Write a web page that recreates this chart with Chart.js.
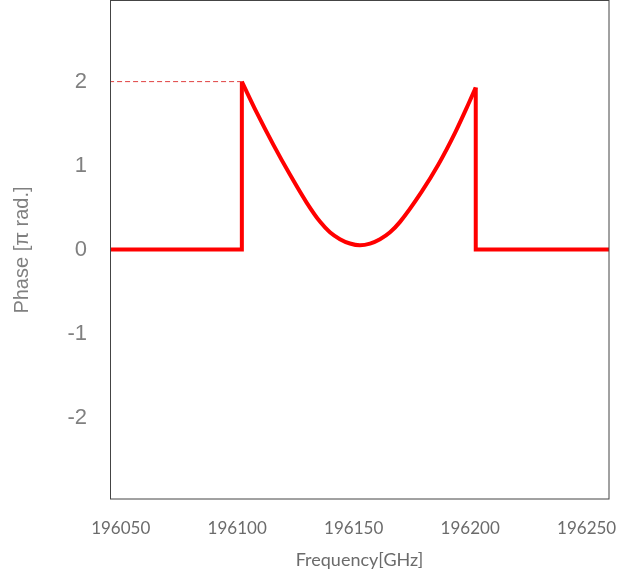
<!DOCTYPE html>
<html>
<head>
<meta charset="utf-8">
<script src="https://cdn.jsdelivr.net/npm/chart.js@4/dist/chart.umd.min.js"></script>
<style>
  html, body { margin: 0; padding: 0; background: #fff; }
  #wrap { width: 631px; height: 580px; }
</style>
</head>
<body>
<div id="wrap"><canvas id="myChart" width="631" height="580"></canvas></div>
<script>
// x: frequency [GHz], y: phase [pi rad]
var xTicks = [196050, 196100, 196150, 196200, 196250];
var yTicks = [-2, -1, 0, 1, 2];

// flat part outside the band, and the two jump positions
var edgeFreq = [196045, 196102.0, 196202.4, 196260];
var edgePhase = [0, 0, 0, 0];

// curved part between the two jumps
var curveFreq = [196102.0, 196108.4, 196115.5, 196122.7, 196129.8, 196135.6, 196139.8, 196144.1, 196148.4,
                 196152.7, 196157.0, 196161.3, 196165.6, 196169.9, 196179.2, 196186.3, 196193.5,
                 196199.2, 196202.4];
var curvePhase = [2.0, 1.63, 1.25, 0.89, 0.56, 0.33, 0.206, 0.124, 0.072,
                  0.051, 0.071, 0.123, 0.206, 0.33, 0.69, 1.01, 1.39,
                  1.73, 1.93];

function pts(xs, ys) {
    return xs.map(function (x, i) { return { x: x, y: ys[i] }; });
}

var last = curveFreq.length - 1;
var leftStep = pts([edgeFreq[0], edgeFreq[1], curveFreq[0]], [edgePhase[0], edgePhase[1], curvePhase[0]]);
var rightStep = pts([curveFreq[last], edgeFreq[2], edgeFreq[3]], [curvePhase[last], edgePhase[2], edgePhase[3]]);
var refLine = pts([edgeFreq[0], curveFreq[0]], [curvePhase[0], curvePhase[0]]);

// frame around the plot area
var frame = {
    id: 'frame',
    afterDatasetsDraw: function (chart) {
        var a = chart.chartArea, c = chart.ctx;
        c.save();
        c.strokeStyle = '#444';
        c.lineWidth = 1;
        c.strokeRect(Math.round(a.left) + 0.5, Math.round(a.top) - 0.5,
                     Math.round(a.right - a.left) - 0.5, Math.round(a.bottom - a.top) + 0.5);
        c.restore();
    }
};

var ctx = document.getElementById('myChart').getContext('2d');
var myChart = new Chart(ctx, {
    type: 'line',
    data: {
        datasets: [
            { data: refLine, borderColor: '#e04040', borderWidth: 1, borderDash: [5, 3], pointRadius: 0 },
            { data: leftStep, borderColor: '#ff0000', borderWidth: 4, pointRadius: 0, borderJoinStyle: 'miter' },
            { data: pts(curveFreq, curvePhase), borderColor: '#ff0000', borderWidth: 4, pointRadius: 0,
              cubicInterpolationMode: 'monotone' },
            { data: rightStep, borderColor: '#ff0000', borderWidth: 4, pointRadius: 0, borderJoinStyle: 'miter' }
        ]
    },
    options: {
        responsive: false,
        animation: false,
        events: [],
        layout: { padding: { left: 0, top: 1, right: 22, bottom: 0 } },
        plugins: { legend: { display: false }, tooltip: { enabled: false } },
        scales: {
            x: {
                type: 'linear',
                min: 196045.4,
                max: 196259.6,
                afterBuildTicks: function (s) { s.ticks = xTicks.map(function (v) { return { value: v }; }); },
                afterFit: function (s) { s.height = 81; s.paddingLeft = 0; s.paddingRight = 0; },
                grid: { display: false, drawTicks: false },
                border: { display: false },
                ticks: {
                    padding: 19,
                    color: '#6b6b6b',
                    font: { family: 'Lato', size: 17 },
                    callback: function (v) { return String(v); }
                },
                title: {
                    display: true,
                    text: 'Frequency[GHz]',
                    color: '#6b6b6b',
                    font: { family: 'Lato', size: 18 },
                    padding: { top: 0, bottom: 9 }
                }
            },
            y: {
                type: 'linear',
                min: -2.97,
                max: 2.96,
                afterBuildTicks: function (s) { s.ticks = yTicks.map(function (v) { return { value: v }; }); },
                afterFit: function (s) { s.width = 110; s.paddingTop = 0; s.paddingBottom = 0; },
                grid: { display: false, drawTicks: false },
                border: { display: false },
                ticks: {
                    padding: 23,
                    color: '#808080',
                    font: { family: 'Liberation Sans', size: 22 }
                },
                title: {
                    display: true,
                    text: 'Phase [π rad.]',
                    color: '#808080',
                    font: { family: 'Liberation Sans', size: 20 },
                    padding: { top: 10, bottom: 0 }
                }
            }
        }
    },
    plugins: [frame]
});
</script>
</body>
</html>
